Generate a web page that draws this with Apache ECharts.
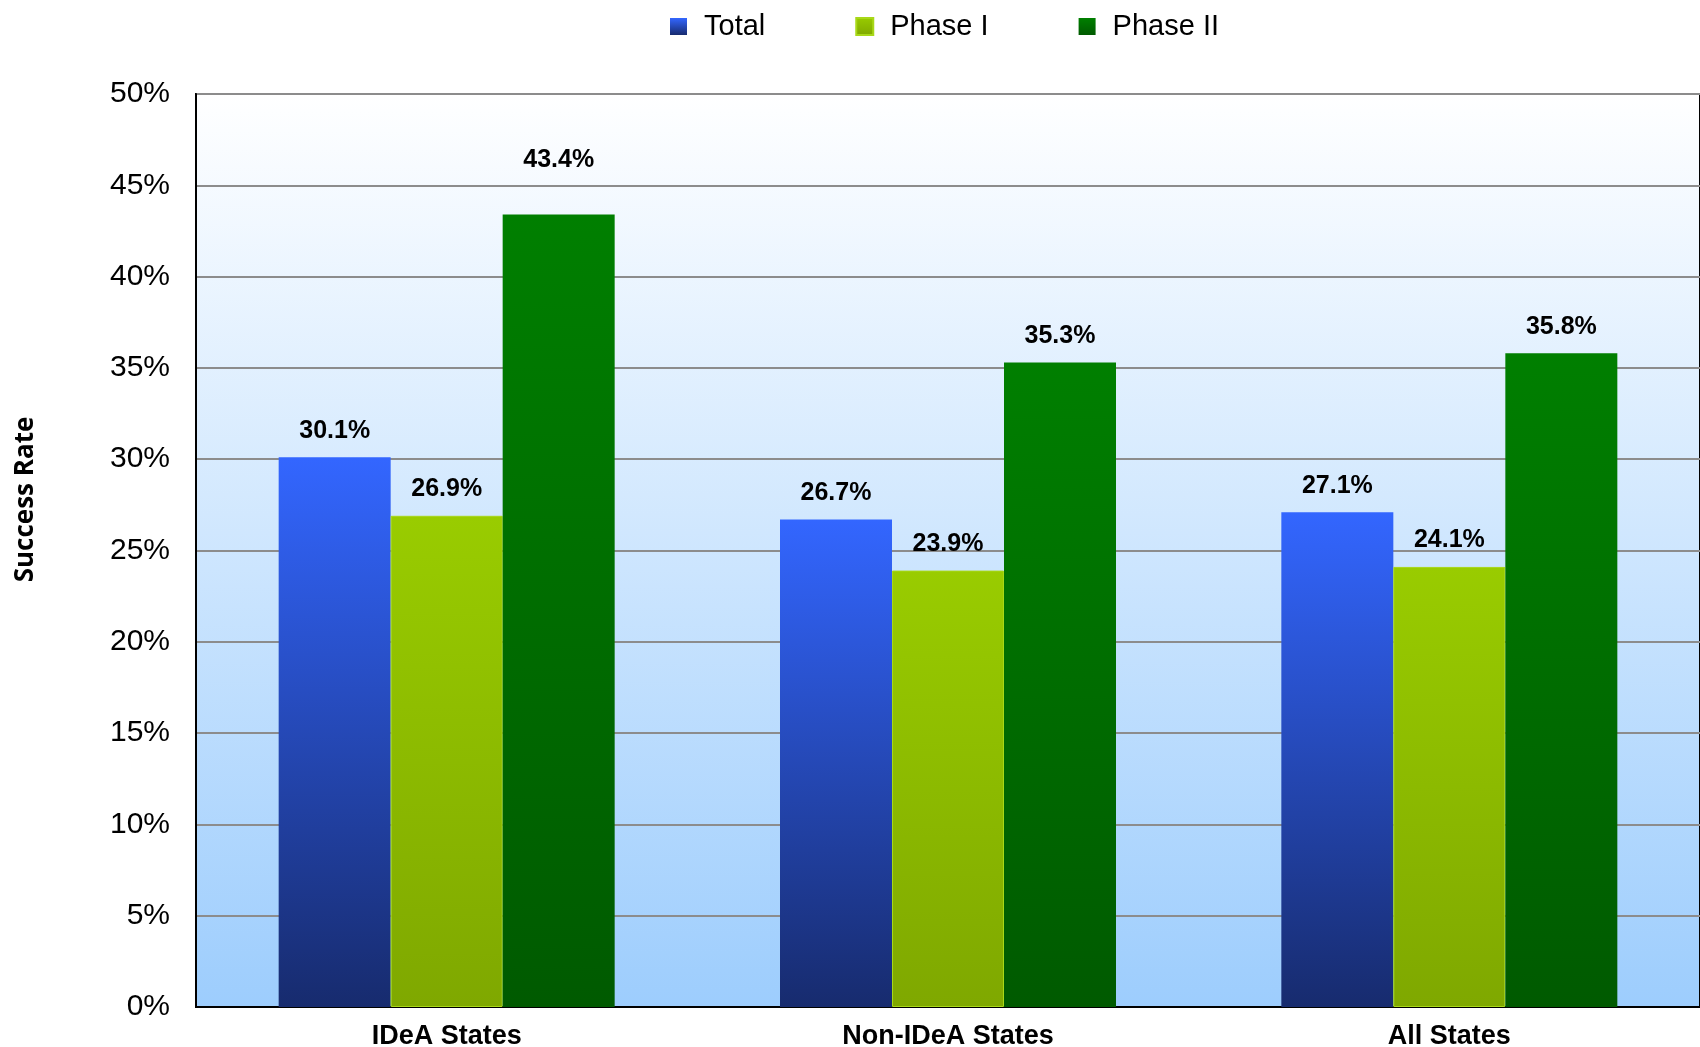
<!DOCTYPE html>
<html>
<head>
<meta charset="utf-8">
<script src="https://cdn.jsdelivr.net/npm/echarts@6/dist/echarts.min.js"></script>
<style>
  html, body { margin: 0; padding: 0; background: #fff; }
  #chart { width: 1700px; height: 1047px; }
</style>
</head>
<body>
<div id="chart"></div>
<script>
const categories = ['IDeA States', 'Non-IDeA States', 'All States']
const totalRate = [30.1, 26.7, 27.1]
const phase1Rate = [26.9, 23.9, 24.1]
const phase2Rate = [43.4, 35.3, 35.8]
const yTicks = { min: 0, max: 50, interval: 5 }

const chart = echarts.init(document.getElementById('chart'))

const grad = (top, bottom) =>
  new echarts.graphic.LinearGradient(0, 0, 0, 1, [
    { offset: 0, color: top },
    { offset: 1, color: bottom },
  ])

const labelStyle = {
  show: true,
  position: 'top',
  distance: 14,
  formatter: (p) => p.value.toFixed(1) + '%',
  color: '#000',
  fontFamily: 'Liberation Sans, Arial, sans-serif',
  fontWeight: 'bold',
  fontSize: 25,
}

function barSeries(name, data, top, bottom, border, liftFirst) {
  return {
    name,
    type: 'bar',
    // the tallest label sits a bit higher in the original
    data: data.map((v, i) =>
      liftFirst && i === 0 ? { value: v, label: { distance: 42 } } : v
    ),
    barWidth: 112,
    barGap: '0%',
    itemStyle: {
      color: grad(top, bottom),
      borderColor: border || null,
      borderWidth: border ? 1 : 0,
    },
    label: labelStyle,
  }
}

chart.setOption({
  backgroundColor: '#fff',
  animation: false,
  legend: {
    left: 665,
    top: 7,
    itemWidth: 17,
    itemHeight: 17,
    itemGap: 90,
    icon: 'rect',
    textStyle: {
      color: '#000',
      fontFamily: 'Liberation Sans, Arial, sans-serif',
      fontSize: 29,
      padding: [0, 0, 0, 12],
    },
  },
  grid: {
    left: 196,
    right: 0,
    top: 94,
    bottom: 40,
    outerBoundsMode: 'none',
    show: true,
    borderColor: '#000',
    borderWidth: 2,
    backgroundColor: grad('#ffffff', '#9dcdfd'),
  },
  xAxis: {
    type: 'category',
    data: categories,
    axisLine: { lineStyle: { color: '#000', width: 2 } },
    axisTick: { show: false },
    axisLabel: {
      color: '#000',
      fontFamily: 'Liberation Sans, Arial, sans-serif',
      fontWeight: 'bold',
      fontSize: 27,
      margin: 16,
    },
  },
  yAxis: {
    type: 'value',
    min: yTicks.min,
    max: yTicks.max,
    interval: yTicks.interval,
    name: 'Success Rate',
    nameLocation: 'middle',
    nameGap: 157,
    nameRotate: 90,
    nameTextStyle: {
      color: '#000',
      fontFamily: 'Open Sans, sans-serif',
      fontWeight: 'bold',
      fontSize: 26,
      padding: [0, 0, 0, 102],
    },
    axisLine: { show: true, lineStyle: { color: '#000', width: 2 } },
    axisTick: { show: false },
    splitLine: { lineStyle: { color: '#8c8c8c', width: 2 } },
    axisLabel: {
      formatter: '{value}%',
      color: '#000',
      fontFamily: 'Liberation Sans, Arial, sans-serif',
      fontSize: 30,
      margin: 26,
    },
  },
  series: [
    barSeries('Total', totalRate, '#3366ff', '#172b6e'),
    barSeries('Phase I', phase1Rate, '#99cc00', '#7fa800', '#a8d818'),
    barSeries('Phase II', phase2Rate, '#007f00', '#005a00', null, true),
  ],
})
</script>
</body>
</html>
